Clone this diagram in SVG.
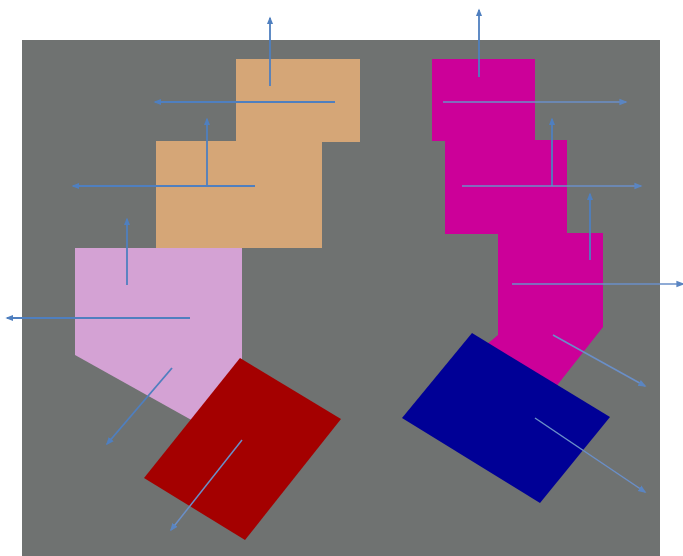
<svg xmlns="http://www.w3.org/2000/svg" width="683" height="556" viewBox="0 0 683 556">
<defs>
<style>
.bg{fill:#6f7271}
.tan{fill:#d5a677}
.lilac{fill:#d4a2d4}
.red{fill:#a40000}
.mag{fill:#cc0099}
.blue{fill:#000096}
.arr{stroke:#4f7fbf;stroke-width:1.8;fill:none;marker-end:url(#ah)}
.arr2{stroke:#6a8fc8;stroke-width:1.5;fill:none;marker-end:url(#ah2)}
</style>
<marker id="ah" viewBox="0 0 10 10" refX="8" refY="5" markerWidth="4.5" markerHeight="4.5" orient="auto" markerUnits="strokeWidth">
<path d="M0,1 L10,5 L0,9 z" fill="#4f7fbf"/>
</marker>
<marker id="ah2" viewBox="0 0 10 10" refX="8" refY="5" markerWidth="5.5" markerHeight="5.5" orient="auto" markerUnits="strokeWidth">
<path d="M0,1 L10,5 L0,9 z" fill="#5a85c2"/>
</marker>
</defs>
<rect x="0" y="0" width="683" height="556" fill="#ffffff"/>
<rect id="background" class="bg" x="22" y="40" width="638" height="516"/>
<g id="tan-block">
<rect class="tan" x="236" y="59" width="124" height="83"/>
<rect class="tan" x="156" y="141" width="166" height="107"/>
</g>
<g id="lilac-block">
<polygon class="lilac" points="75,248 242,248 242,385 195,422 75,355"/>
</g>
<g id="red-block">
<polygon class="red" points="240,358 341,419 245,540 144,478"/>
</g>
<g id="magenta-block">
<rect class="mag" x="432" y="59" width="103" height="82"/>
<rect class="mag" x="445" y="140" width="122" height="94"/>
<polygon class="mag" points="498,233 603,233 603,327 555,388 486,345 498,335"/>
</g>
<g id="blue-block">
<polygon class="blue" points="472,333 610,417 540,503 402,418"/>
</g>
<g id="connectors">
<line class="arr" x1="270" y1="86" x2="270" y2="18"/>
<line class="arr" x1="335" y1="102" x2="155" y2="102"/>
<line class="arr" x1="207" y1="186" x2="207" y2="119"/>
<line class="arr" x1="255" y1="186" x2="73" y2="186"/>
<line class="arr" x1="127" y1="285" x2="127" y2="219"/>
<line class="arr" x1="190" y1="318" x2="7" y2="318"/>
<line class="arr" x1="172" y1="368" x2="107" y2="444"/>
<line class="arr2" x1="242" y1="440" x2="171" y2="530"/>
<line class="arr" x1="479" y1="77" x2="479" y2="10"/>
<line class="arr2" x1="443" y1="102" x2="626" y2="102"/>
<line class="arr" x1="552" y1="186" x2="552" y2="119"/>
<line class="arr2" x1="462" y1="186" x2="641" y2="186"/>
<line class="arr" x1="590" y1="260" x2="590" y2="194"/>
<line class="arr2" x1="512" y1="284" x2="683" y2="284"/>
<line class="arr2" x1="553" y1="335" x2="645" y2="386"/>
<line class="arr2" x1="535" y1="418" x2="645" y2="492"/>
</g>
</svg>
